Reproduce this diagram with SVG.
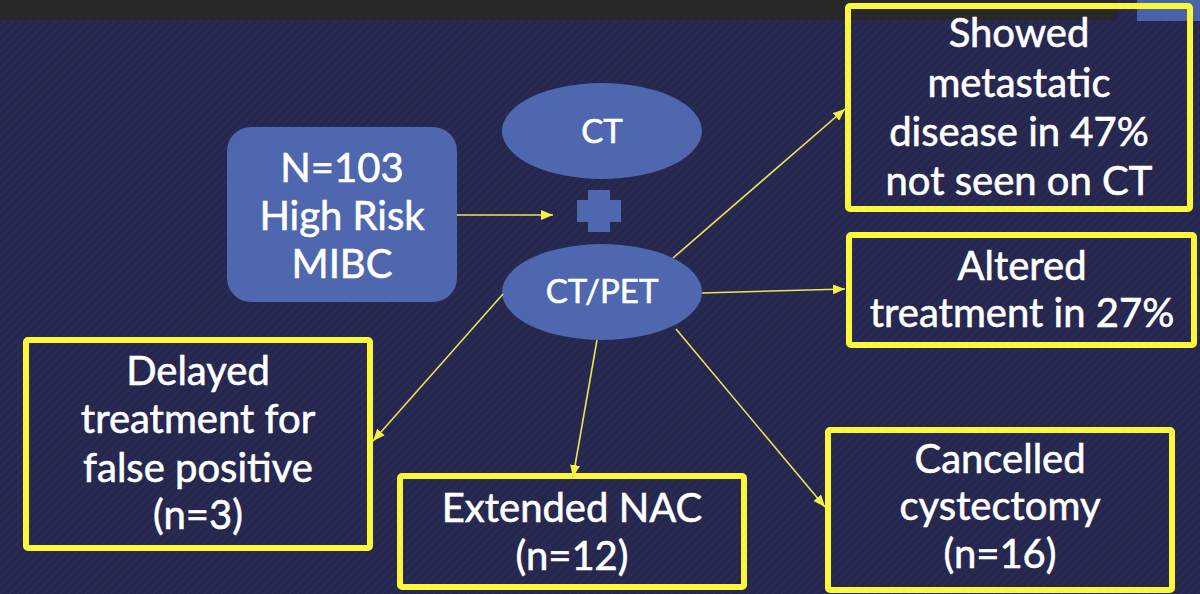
<svg xmlns="http://www.w3.org/2000/svg" width="1200" height="594" viewBox="0 0 1200 594">
  <defs>
    <pattern id="hatch" width="6" height="6" patternUnits="userSpaceOnUse" patternTransform="rotate(45)">
      <line x1="0" y1="0" x2="0" y2="6" stroke="#ffffff" stroke-opacity="0.035" stroke-width="2"/>
    </pattern>
    <marker id="arrow" viewBox="0 0 12 10" refX="12" refY="5" markerWidth="12" markerHeight="10" markerUnits="userSpaceOnUse" orient="auto">
      <path d="M0,0 L12,5 L0,10 Z" fill="#f5f243"/>
    </marker>
    <style>
      .t { font-family: Lato, "Open Sans", "Liberation Sans", sans-serif; fill: #ffffff; stroke: #ffffff; stroke-width: 0.6px; text-anchor: middle; }
      .big { font-size: 40px; }
      .ell { font-size: 33px; }
      .blue { fill: #4f67ae; }
      .ybox { fill: none; stroke: #fbf83c; stroke-width: 6; }
      .conn line { stroke: #e8e45a; stroke-width: 1.6; marker-end: url(#arrow); }
    </style>
  </defs>

  <rect x="0" y="0" width="1200" height="594" fill="#25274f"/>
  <rect x="0" y="0" width="1200" height="594" fill="url(#hatch)"/>
  <rect x="0" y="0" width="1117" height="20" fill="#282828"/>
  <rect x="1137" y="0" width="63" height="21" fill="#4a63a8"/>

  <g id="n103">
    <rect class="blue" x="227" y="127" width="230" height="175" rx="24" ry="24"/>
    <text class="t big" x="342" y="182">N=103</text>
    <text class="t big" x="342" y="230">High Risk</text>
    <text class="t big" x="342" y="278">MIBC</text>
  </g>

  <g id="ct">
    <ellipse class="blue" cx="602" cy="131" rx="100" ry="48"/>
    <text class="t ell" x="602" y="143">CT</text>
  </g>

  <g id="plus">
    <path class="blue" d="M588,190 H610 V200 H621 V222 H610 V232 H588 V222 H577 V200 H588 Z"/>
  </g>

  <g id="ctpet">
    <ellipse class="blue" cx="602" cy="292" rx="100" ry="48"/>
    <text class="t ell" x="602" y="303">CT/PET</text>
  </g>

  <g id="showed">
    <rect class="ybox" x="848" y="6" width="342" height="203" rx="2"/>
    <text class="t big" x="1019" y="47">Showed</text>
    <text class="t big" x="1019" y="97">metastatic</text>
    <text class="t big" x="1019" y="146">disease in 47%</text>
    <text class="t big" x="1019" y="195">not seen on CT</text>
  </g>

  <g id="altered">
    <rect class="ybox" x="849" y="235" width="345" height="110" rx="2"/>
    <text class="t big" x="1022" y="280">Altered</text>
    <text class="t big" x="1022" y="327">treatment in 27%</text>
  </g>

  <g id="delayed">
    <rect class="ybox" x="26" y="340" width="344" height="208" rx="2"/>
    <text class="t big" x="198" y="385">Delayed</text>
    <text class="t big" x="198" y="433">treatment for</text>
    <text class="t big" x="198" y="482">false positive</text>
    <text class="t big" x="198" y="529">(n=3)</text>
  </g>

  <g id="extended">
    <rect class="ybox" x="400" y="476" width="344" height="111" rx="2"/>
    <text class="t big" x="572" y="522">Extended NAC</text>
    <text class="t big" x="572" y="570">(n=12)</text>
  </g>

  <g id="cancelled">
    <rect class="ybox" x="828" y="430" width="344" height="160" rx="2"/>
    <text class="t big" x="1000" y="473">Cancelled</text>
    <text class="t big" x="1000" y="520">cystectomy</text>
    <text class="t big" x="1000" y="568">(n=16)</text>
  </g>

  <g id="connectors" class="conn">
    <line x1="457" y1="215" x2="553" y2="215"/>
    <line x1="673" y1="258" x2="845" y2="109"/>
    <line x1="702" y1="293" x2="845" y2="289"/>
    <line x1="676" y1="329" x2="825" y2="507"/>
    <line x1="597" y1="340" x2="573" y2="477"/>
    <line x1="503" y1="294" x2="373" y2="441"/>
  </g>
</svg>
